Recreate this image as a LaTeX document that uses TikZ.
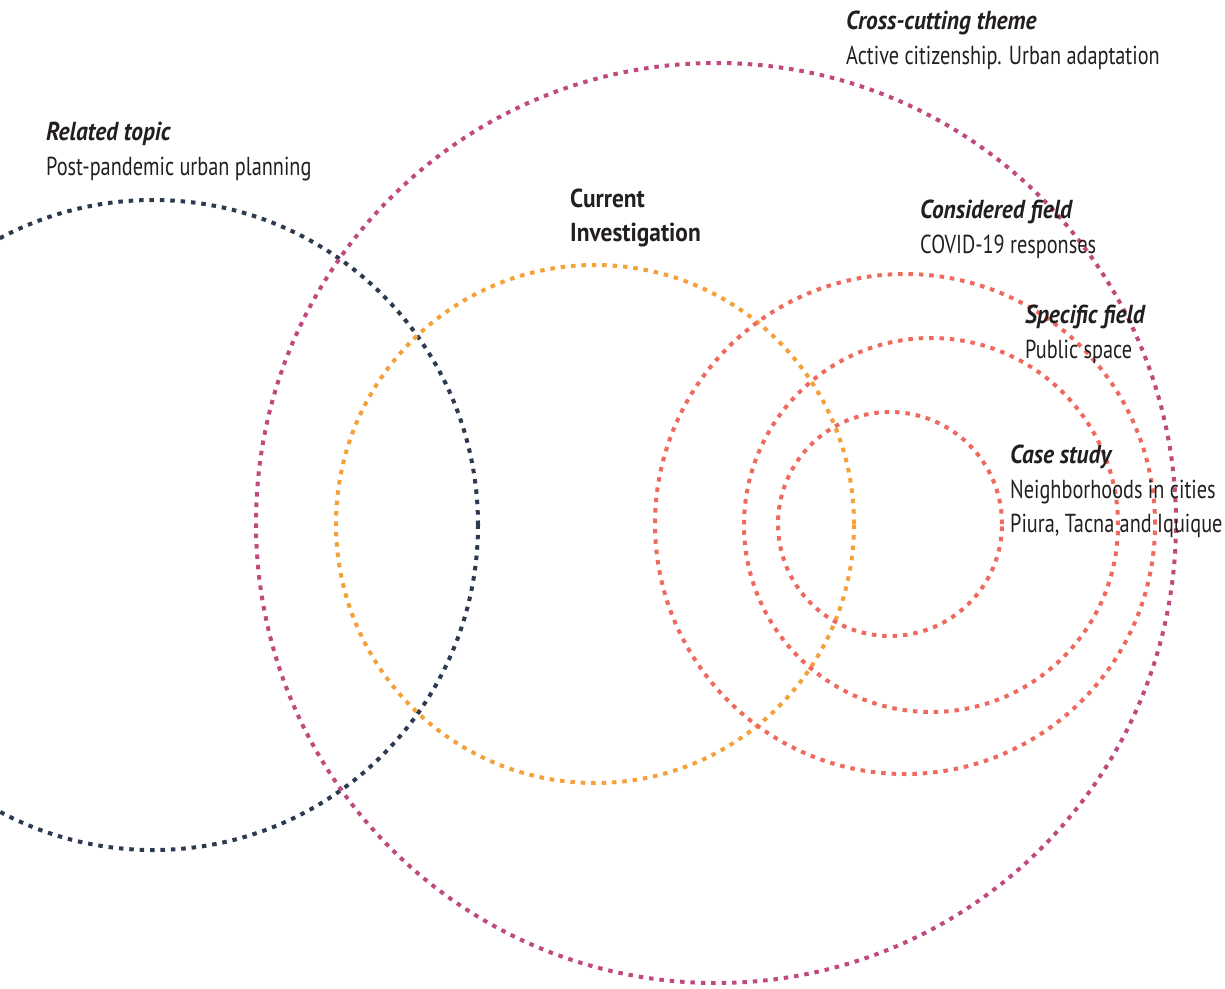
\documentclass[tikz,border=0pt]{standalone}
\usepackage{fontspec}
\setmainfont[FakeStretch=0.78]{PT Sans}
\newfontfamily\ttlfont[FakeStretch=0.9]{PT Sans}
\definecolor{magentaC}{HTML}{C04A80}
\definecolor{navyC}{HTML}{2C3A4F}
\definecolor{orangeC}{HTML}{F4A13B}
\definecolor{coralC}{HTML}{EE6A5E}
\definecolor{textC}{HTML}{231F20}
\tikzset{
  ring/.style={circle, draw, line width=4pt, dash pattern=on 4.5pt off 5.9pt, inner sep=0pt, fill=none},
  lbl/.style={anchor=base west, inner sep=0pt, text=textC, font=\fontsize{26pt}{34pt}\selectfont},
  ttl/.style={lbl, font=\fontsize{26pt}{34pt}\selectfont\ttlfont\bfseries\itshape},
  hdr/.style={lbl, font=\fontsize{26pt}{34pt}\selectfont\ttlfont\bfseries},
}
\begin{document}
\begin{tikzpicture}[x=1pt,y=-1pt]
\fill[white] (0,0) rectangle (1225,988);
\useasboundingbox (0,0) rectangle (1225,988);
\clip (0,0) rectangle (1225,988);
% circles
\node[ring, draw=navyC, minimum size=650pt] (related) at (153,525) {};
\node[ring, draw=magentaC, minimum size=920pt] (cross) at (716,523) {};
\node[ring, draw=orangeC, minimum size=518pt] (current) at (595,524) {};
\node[ring, draw=coralC, minimum size=500pt] (considered) at (905,524) {};
\node[ring, draw=coralC, minimum size=374pt] (specific) at (931,525) {};
\node[ring, draw=coralC, minimum size=224pt] (case) at (890,524) {};
% labels
\node[ttl] (crossT) at (846,29) {Cross-cutting theme};
\node[lbl] (crossD) at (846,64) {Active citizenship. Urban adaptation};
\node[ttl] (relT) at (46,140) {Related topic};
\node[lbl] (relD) at (46,175) {Post-pandemic urban planning};
\node[hdr] (curT) at (570,207) {Current};
\node[hdr] (curT2) at (570,241) {Investigation};
\node[ttl] (conT) at (920,218) {Considered field};
\node[lbl] (conD) at (920,253) {COVID-19 responses};
\node[ttl] (speT) at (1025,323) {Specific field};
\node[lbl] (speD) at (1025,358) {Public space};
\node[ttl] (casT) at (1010,463) {Case study};
\node[lbl] (casD) at (1010,498) {Neighborhoods in cities};
\node[lbl] (casD2) at (1010,532) {Piura, Tacna and Iquique};
\end{tikzpicture}
\end{document}
